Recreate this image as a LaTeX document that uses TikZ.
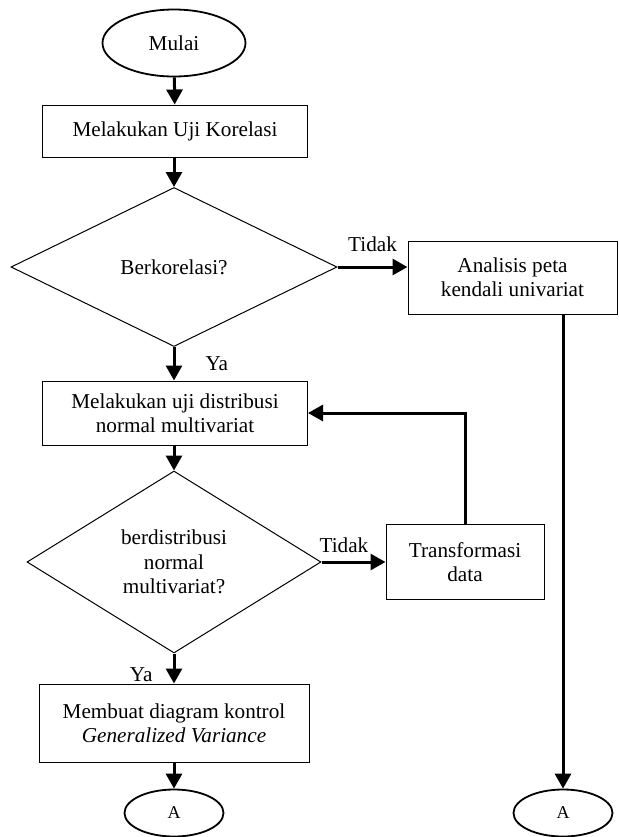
\documentclass[tikz,border=0pt]{standalone}
\usepackage{fontspec}
\setmainfont{Liberation Serif}
\usetikzlibrary{shapes.geometric,arrows.meta}

\begin{document}
\begin{tikzpicture}[
                x=0.5pt, y=-0.5pt,
                every node/.style={draw, align=center, inner sep=0pt, font=\fontsize{10.6}{12.2}\selectfont},
                terminal/.style={ellipse, line width=0.9pt},
                proses/.style={rectangle, line width=0.5pt},
                keputusan/.style={diamond, line width=0.5pt},
                ket/.style={draw=none},
                panah/.style={line width=1.5pt, -{Triangle[width=8pt,length=7.5pt]}},
            ]
            \useasboundingbox (0,0) rectangle (619,837);
            \node[terminal, minimum width=71.5pt, minimum height=33.5pt] (mulai) at (174,43) {Mulai};
            \node[proses, minimum width=132.5pt, minimum height=26pt] (uji) at (175,131) {Melakukan Uji Korelasi};
            \node[keputusan, minimum width=163pt, minimum height=79.5pt] (kor) at (174,267) {Berkorelasi?};
            \node[proses, minimum width=104.5pt, minimum height=36.5pt] (analisis) at (512.5,277.5) {Analisis peta\\kendali univariat};
            \node[proses, minimum width=132.5pt, minimum height=32pt] (dist) at (175,413) {Melakukan uji distribusi\\normal multivariat};
            \node[keputusan, minimum width=147pt, minimum height=91pt] (normal) at (174,562) {berdistribusi\\normal\\multivariat?};
            \node[proses, minimum width=79pt, minimum height=37.5pt] (trans) at (465,562) {Transformasi\\data};
            \node[proses, minimum width=135pt, minimum height=39pt] (gv) at (174,723) {Membuat diagram kontrol\\\textit{Generalized Variance}};
            \node[terminal, minimum width=49.5pt, minimum height=23.5pt, font=\fontsize{9}{10}\selectfont] (akiri) at (174,813) {A};
            \node[terminal, minimum width=49.5pt, minimum height=23.5pt, font=\fontsize{9}{10}\selectfont] (akanan) at (563,813) {A};
            \draw[panah] (mulai) -- (uji);
            \draw[panah] (uji.south -| kor.north) -- (kor.north);
            \draw[panah] (kor.east) -- (kor.east -| analisis.west) node[ket, midway, above=7pt] {Tidak};
            \draw[panah] (kor.south) -- (kor.south |- dist.north) node[ket, midway, right=15pt] {Ya};
            \draw[panah] (dist.south -| normal.north) -- (normal.north);
            \draw[panah] (normal.east) -- (trans.west) node[ket, pos=0.35, above=4pt] {Tidak};
            \draw[panah] (trans.north) |- (dist.east);
            \draw[panah] (normal.south) -- (normal.south |- gv.north) node[ket, pos=0.7, left=10pt] {Ya};
            \draw[panah] (gv.south -| akiri.north) -- (akiri.north);
            \draw[panah] (analisis.south -| akanan.north) -- (akanan.north);
            \end{tikzpicture}
\end{document}
